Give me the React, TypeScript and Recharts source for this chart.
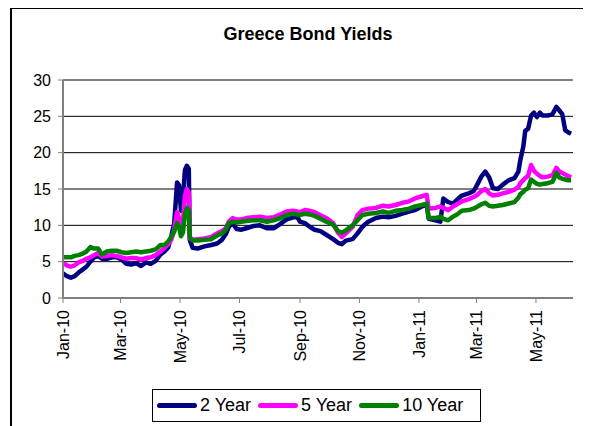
import React from "react";
import { LineChart, Line, XAxis, YAxis, CartesianGrid } from "recharts";

// days since 1 Jan 2010
const days = [
  0, 4, 8, 12, 16, 20, 24, 28, 32, 36, 40, 45, 50, 55, 60, 65, 70, 75, 80, 85, 90, 95, 100, 104, 108,
  111, 114, 117, 119, 121, 123, 125, 127, 129, 130, 133, 138, 145, 152, 158, 163, 167, 170, 174, 178,
  183, 188, 195, 202, 209, 216, 223, 229, 236, 240, 243, 248, 253, 258, 264, 270, 277, 282, 286, 290,
  297, 302, 307, 313, 321, 328, 334, 341, 348, 355, 361, 368, 373, 375, 382, 387, 390, 395, 400, 404,
  409, 416, 421, 424, 429, 433, 437, 441, 446, 451, 457, 463, 467, 469, 472, 474, 477, 480, 483, 486,
  489, 492, 497, 502, 506, 509, 512, 515, 518, 521,
];

const twoYear = [
  3.4, 3.0, 2.8, 3.0, 3.5, 3.9, 4.3, 5.0, 5.6, 5.8, 5.4, 5.4, 5.6, 5.6, 5.3, 4.7, 4.6, 4.8, 4.4, 4.9, 4.7, 5.1, 6.0, 6.4, 7.0,
  8.5, 10.2, 15.9, 15.5, 12.0, 13.5, 17.6, 18.2, 17.8, 8.0, 6.9, 6.8, 7.1, 7.3, 7.5, 8.0, 8.8, 9.8, 10.3, 9.5,
  9.4, 9.6, 9.9, 10.0, 9.6, 9.6, 10.2, 10.8, 11.1, 11.2, 10.5, 10.3, 9.8, 9.4, 9.2, 8.7, 8.1, 7.6, 7.4, 7.9,
  8.1, 8.9, 9.8, 10.5, 11.0, 11.2, 11.1, 11.3, 11.6, 11.9, 12.1, 12.6, 12.8, 10.9, 10.7, 10.5, 13.7, 13.2, 13.0, 13.5,
  14.1, 14.4, 14.7, 15.4, 16.7, 17.4, 16.6, 15.1, 15.0, 15.6, 16.2, 16.5, 17.4, 19.0, 20.8, 23.0, 23.3, 25.1, 25.5, 24.9,
  25.5, 25.1, 25.1, 25.3, 26.3, 25.8, 25.3, 23.1, 22.8, 22.6,
];

const fiveYear = [
  4.8, 4.5, 4.3, 4.5, 4.9, 5.1, 5.4, 5.6, 5.9, 6.2, 5.7, 5.8, 5.9, 5.8, 5.6, 5.4, 5.5, 5.5, 5.3, 5.5, 5.6, 5.9, 6.4, 6.9, 7.4,
  8.0, 9.4, 11.8, 11.0, 9.4, 10.5, 14.0, 15.0, 14.5, 8.2, 8.0, 8.1, 8.2, 8.4, 8.9, 9.2, 9.6, 10.5, 11.0, 10.8,
  10.8, 11.0, 11.1, 11.2, 11.0, 11.1, 11.5, 11.9, 12.0, 11.9, 11.8, 12.1, 12.0, 11.8, 11.4, 11.0, 10.3, 9.0, 8.4, 8.9,
  9.8, 11.4, 12.1, 12.3, 12.4, 12.7, 12.6, 12.8, 13.1, 13.3, 13.7, 14.0, 14.2, 12.3, 12.4, 12.6, 12.4, 12.1, 12.6, 12.9,
  13.3, 13.6, 13.9, 14.1, 14.7, 15.0, 14.4, 14.1, 14.2, 14.4, 14.6, 14.9, 15.3, 15.8, 16.2, 16.5, 16.8, 18.3, 17.5, 17.1,
  16.8, 16.6, 16.7, 16.9, 17.9, 17.4, 17.2, 17.0, 16.8, 16.6,
];

const tenYear = [
  5.6, 5.6, 5.6, 5.8, 5.9, 6.1, 6.4, 7.0, 6.8, 6.8, 6.0, 6.4, 6.5, 6.5, 6.3, 6.2, 6.3, 6.4, 6.3, 6.4, 6.5, 6.7, 7.3, 7.3, 7.8,
  8.4, 9.1, 10.3, 9.8, 8.5, 9.0, 11.5, 12.4, 12.0, 8.4, 7.9, 7.9, 8.0, 8.1, 8.6, 8.9, 9.4, 10.3, 10.5, 10.4,
  10.5, 10.6, 10.7, 10.7, 10.5, 10.7, 11.0, 11.4, 11.6, 11.5, 11.4, 11.6, 11.5, 11.3, 10.9, 10.5, 10.1, 9.2, 9.0, 9.3,
  10.0, 10.7, 11.4, 11.6, 11.7, 11.9, 11.7, 12.0, 12.1, 12.3, 12.6, 12.8, 13.0, 11.0, 11.0, 11.2, 10.9, 10.7, 11.2, 11.5,
  12.0, 12.1, 12.3, 12.5, 12.9, 13.1, 12.7, 12.6, 12.7, 12.8, 13.0, 13.2, 13.8, 14.3, 14.6, 14.9, 15.1, 16.3, 16.0, 15.7,
  15.6, 15.7, 15.8, 16.0, 17.2, 16.6, 16.4, 16.3, 16.2, 16.2,
];

const tickDays = [0, 59, 120, 181, 243, 304, 365, 424, 485];
const tickLabels = ["Jan-10", "Mar-10", "May-10", "Jul-10", "Sep-10", "Nov-10", "Jan-11", "Mar-11", "May-11"];
const yTicks = [0, 5, 10, 15, 20, 25, 30];

const seriesNames = ["2 Year", "5 Year", "10 Year"];
const seriesColors = ["#000080", "#ff00ff", "#008000"];

const data = days.map((d, i) => ({
  day: d,
  y2: twoYear[i],
  y5: fiveYear[i],
  y10: tenYear[i],
}));

const font = "'Liberation Sans', Arial, sans-serif";

const DateTick = (props: any) => {
  const { x, y, payload } = props;
  const idx = tickDays.indexOf(payload.value);
  return (
    <g transform={`translate(${x},${y})`}>
      <text
        transform="rotate(-90)"
        x={-5}
        y={0}
        dy="0.36em"
        textAnchor="end"
        fontSize={16}
        fontFamily={font}
        fill="#000"
      >
        {tickLabels[idx]}
      </text>
    </g>
  );
};

export default function App() {
  return (
    <div style={{ position: "relative", width: 583, height: 418, overflow: "hidden", fontFamily: font }}>
      <div
        style={{
          position: "absolute",
          left: 2,
          top: -1,
          width: 620,
          height: 440,
          border: "2px solid #000",
          boxSizing: "border-box",
        }}
      />
      <div
        style={{
          position: "absolute",
          left: 0,
          width: 600,
          top: 16,
          textAlign: "center",
          fontWeight: "bold",
          fontSize: 18,
          lineHeight: "20px",
        }}
      >
        Greece Bond Yields
      </div>
      <div style={{ position: "absolute", left: 0, top: 0 }}>
        <LineChart width={583} height={418} data={data} margin={{ top: 72, right: 18, left: 0, bottom: 0 }}>
          <CartesianGrid horizontal vertical={false} stroke="#000" strokeWidth={1} />
          <XAxis
            dataKey="day"
            type="number"
            domain={[0, 523]}
            ticks={tickDays}
            interval={0}
            height={128}
            tick={<DateTick />}
            tickSize={5}
            tickMargin={2}
            axisLine={{ stroke: "#808080", strokeWidth: 2 }}
            tickLine={{ stroke: "#808080" }}
          />
          <YAxis
            type="number"
            domain={[0, 30]}
            ticks={yTicks}
            width={55}
            tickSize={5}
            tickMargin={7}
            axisLine={{ stroke: "#808080", strokeWidth: 2 }}
            tickLine={{ stroke: "#808080" }}
            tick={{ fontSize: 16, fontFamily: font, fill: "#000" }}
          />
          <Line dataKey="y2" stroke={seriesColors[0]} strokeWidth={4.5} dot={false} type="linear" isAnimationActive={false} strokeLinejoin="round" />
          <Line dataKey="y5" stroke={seriesColors[1]} strokeWidth={4.5} dot={false} type="linear" isAnimationActive={false} strokeLinejoin="round" />
          <Line dataKey="y10" stroke={seriesColors[2]} strokeWidth={4.5} dot={false} type="linear" isAnimationActive={false} strokeLinejoin="round" />
        </LineChart>
      </div>
      <div
        style={{
          position: "absolute",
          left: 144,
          top: 381,
          width: 329,
          height: 33,
          border: "1px solid #000",
          boxSizing: "border-box",
          background: "#fff",
          display: "flex",
          alignItems: "center",
          paddingLeft: 4,
          fontSize: 18,
        }}
      >
        {seriesNames.map((name, i) => (
          <div key={name} style={{ display: "flex", alignItems: "center", marginRight: 7 }}>
            <span
              style={{
                display: "inline-block",
                width: 40,
                height: 5,
                borderRadius: 3,
                background: seriesColors[i],
                marginRight: 3,
              }}
            />
            <span>{name}</span>
          </div>
        ))}
      </div>
    </div>
  );
}
